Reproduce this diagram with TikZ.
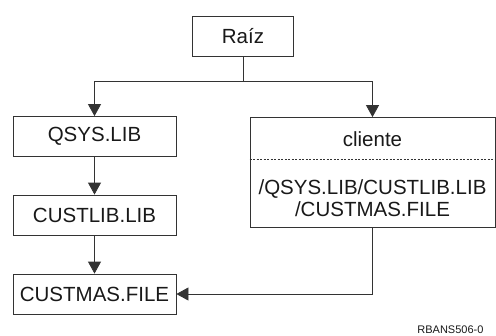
\documentclass[tikz,border=0pt]{standalone}
\usepackage{fontspec}
\setmainfont{Liberation Sans}
\usetikzlibrary{arrows.meta}
\begin{document}
\begin{tikzpicture}[x=1bp,y=-1bp,>={Triangle[length=12bp,width=13bp]},line width=0.8bp,draw=black!80,text=black!90]
\tikzstyle{dir}=[rectangle,draw=black!80,minimum width=163bp,minimum height=40bp,inner sep=0pt,font=\fontsize{20.5bp}{22bp}\selectfont]
\tikzstyle{link}=[rectangle,draw=black!80,minimum width=245bp,minimum height=110bp,inner sep=0pt]
\tikzstyle{txt}=[inner sep=0pt,align=center,font=\fontsize{20.5bp}{22bp}\selectfont]

\useasboundingbox (0,0) rectangle (496,335);

%tree of directories.
\node[dir,minimum width=101bp] (root) at (243,36) {Raíz};
\node[dir] (qsys) at (94.5,136.5) {QSYS.LIB};
\node[dir] (custlib) at (94.5,215) {CUSTLIB.LIB};
\node[dir] (custmas) at (94.5,294) {CUSTMAS.FILE};

%the link object.
\node[link] (cliente) at (372.5,172.5) {};
\node[txt] (clienteName) at (372.5,139) {cliente};
\node[txt] (clientePath) at (372.5,198) {/QSYS.LIB/CUSTLIB.LIB\\/CUSTMAS.FILE};
\draw[line width=0.6bp,dash pattern=on 2bp off 1.5bp] (cliente.west |- 0,159) -- (cliente.east |- 0,159);

\coordinate (split) at (243,81);
\draw[->] (root) -- (split) -| (qsys);
\draw[->] (root) -- (split) -| (cliente);
\draw[->] (qsys) -- (custlib);
\draw[->] (custlib) -- (custmas);

\draw[->] (cliente) |- (custmas);

\node[anchor=base west,inner sep=0pt,font=\fontsize{11bp}{12bp}\selectfont] (figId) at (417,333) {RBANS506-0};

\end{tikzpicture}
\end{document}
